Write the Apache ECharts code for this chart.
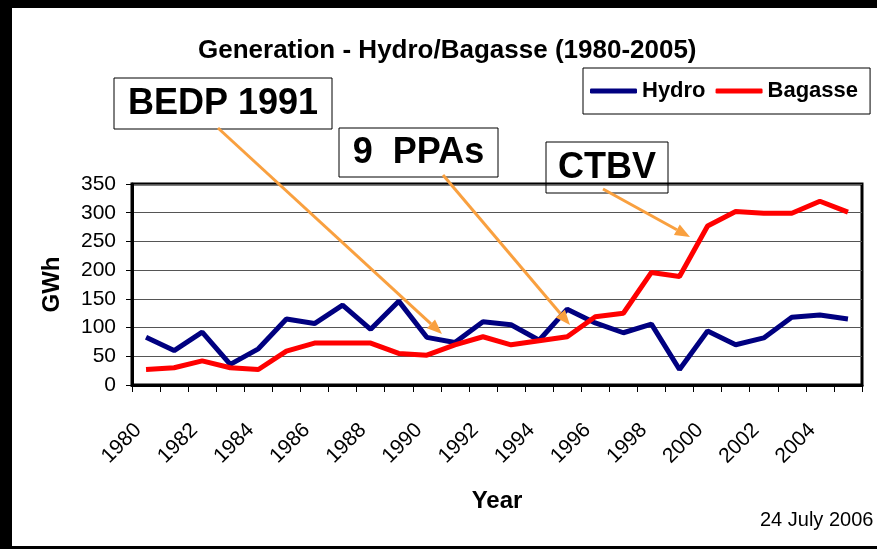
<!DOCTYPE html>
<html>
<head>
<meta charset="utf-8">
<script src="https://cdn.jsdelivr.net/npm/echarts@6/dist/echarts.min.js"></script>
<style>
  html, body { margin: 0; padding: 0; background: #fff; }
  #main { width: 877px; height: 549px; }
</style>
</head>
<body>
<div id="main"></div>
<script>
// 数据
var years = ['1980','1981','1982','1983','1984','1985','1986','1987','1988','1989',
             '1990','1991','1992','1993','1994','1995','1996','1997','1998','1999',
             '2000','2001','2002','2003','2004','2005'];
var hydro   = [83, 60, 92, 36, 63, 115, 107, 139, 97, 146, 83, 74, 110, 105, 78, 132, 108, 91, 106, 27, 94, 70, 82, 118, 122, 115];
var bagasse = [27, 30, 42, 30, 27, 59, 73, 73, 73, 55, 52, 70, 84, 70, 77, 84, 119, 125, 196, 189, 277, 302, 299, 299, 320, 301];
var yTicks  = [0, 50, 100, 150, 200, 250, 300, 350];

var FONT = '"Liberation Sans", Arial, sans-serif';
var ORANGE = '#F9A03F';

//箭头 (line + head)
function arrow(x1, y1, x2, y2)
{
    var a = Math.atan2(y2 - y1, x2 - x1);
    var len = 15, half = 6;
    var bx = x2 - len * Math.cos(a), by = y2 - len * Math.sin(a);
    var px = -Math.sin(a) * half, py = Math.cos(a) * half;
    return [
        {
            type: 'line', z: 20,
            shape: { x1: x1, y1: y1, x2: bx, y2: by },
            style: { stroke: ORANGE, lineWidth: 3 }
        },
        {
            type: 'polygon', z: 20,
            shape: { points: [[x2, y2], [bx + px, by + py], [bx - px, by - py]] },
            style: { fill: ORANGE }
        }
    ];
}

//标注框
function labelBox(x, y, w, h, text)
{
    return [
        {
            type: 'rect', z: 15,
            shape: { x: x, y: y, width: w, height: h },
            style: { fill: null, stroke: '#000', lineWidth: 1 }
        },
        {
            type: 'text', z: 16,
            style: {
                text: text, x: x + w / 2, y: y + h / 2 + 1,
                align: 'center', verticalAlign: 'middle',
                font: 'bold 36px ' + FONT, fill: '#000'
            }
        }
    ];
}

var graphics = []
    .concat([
        { type: 'rect', z: 30, shape: { x: 0, y: 0, width: 877, height: 8 }, style: { fill: '#000' } },
        { type: 'rect', z: 30, shape: { x: 0, y: 0, width: 12, height: 549 }, style: { fill: '#000' } },
        { type: 'rect', z: 30, shape: { x: 0, y: 546, width: 877, height: 3 }, style: { fill: '#000' } },
        {
            type: 'text', z: 16,
            style: { text: '24 July 2006', x: 760, y: 520, verticalAlign: 'middle',
                     font: '20px ' + FONT, fill: '#000' }
        }
    ])
    .concat(labelBox(114, 78, 218, 51, 'BEDP 1991'))
    .concat(labelBox(339, 128, 159, 49, '9  PPAs'))
    .concat(labelBox(546, 142, 122, 51, 'CTBV'))
    .concat(arrow(218, 128, 442, 334))
    .concat(arrow(443, 175, 570, 325))
    .concat(arrow(603, 189, 690, 237));

var myChart = echarts.init(document.getElementById('main'), null, { renderer: 'canvas' });

myChart.setOption({
    backgroundColor: '#fff',
    animation: false,
    //标题
    title: {
        text: 'Generation - Hydro/Bagasse (1980-2005)',
        left: 193,
        top: 33,
        textStyle: { fontFamily: FONT, fontSize: 26, fontWeight: 'bold', color: '#000' }
    },
    legend: {
        left: 583,
        top: 68,
        padding: [12, 12, 12, 7],
        borderColor: '#000',
        borderWidth: 1,
        itemGap: 10,
        itemWidth: 47,
        itemHeight: 5,
        icon: 'roundRect',
        data: ['Hydro', 'Bagasse'],
        textStyle: { fontFamily: FONT, fontSize: 22, fontWeight: 'bold', color: '#000', padding: [0, 0, 0, 0] }
    },
    grid: {
        left: 132,
        right: 15,
        top: 184,
        bottom: 164,
        show: true,
        borderColor: '#000',
        borderWidth: 3,
        backgroundColor: 'transparent'
    },
    //x轴
    xAxis: {
        type: 'category',
        data: years,
        boundaryGap: true,
        name: 'Year',
        nameLocation: 'middle',
        nameGap: 104,
        nameTextStyle: { fontFamily: FONT, fontSize: 24, fontWeight: 'bold', color: '#000' },
        axisLine: { lineStyle: { color: '#000', width: 3 } },
        axisTick: { show: true, interval: 0, length: 7, lineStyle: { color: '#000', width: 1 } },
        axisLabel: {
            interval: 1,
            rotate: 45,
            margin: 34,
            padding: [0, 11, 0, 0],
            fontFamily: FONT,
            fontSize: 21,
            color: '#000'
        }
    },
    //y轴
    yAxis: {
        type: 'value',
        min: yTicks[0],
        max: yTicks[yTicks.length - 1],
        interval: 50,
        name: 'GWh',
        nameLocation: 'middle',
        nameRotate: 90,
        nameGap: 68,
        nameTextStyle: { fontFamily: FONT, fontSize: 24, fontWeight: 'bold', color: '#000' },
        axisLine: { show: true, lineStyle: { color: '#000', width: 3 } },
        axisTick: { show: true, length: 6, lineStyle: { color: '#000', width: 1 } },
        axisLabel: { margin: 16, fontFamily: FONT, fontSize: 21, color: '#000' },
        splitLine: { show: true, lineStyle: { color: '#555', width: 1 } }
    },
    series: [
        {
            name: 'Hydro',
            type: 'line',
            data: hydro,
            symbol: 'none',
            z: 3,
            itemStyle: { color: '#000080' },
            lineStyle: { color: '#000080', width: 5 }
        },
        {
            name: 'Bagasse',
            type: 'line',
            data: bagasse,
            symbol: 'none',
            z: 4,
            itemStyle: { color: '#FF0000' },
            lineStyle: { color: '#FF0000', width: 5 }
        }
    ],
    graphic: graphics
});
</script>
</body>
</html>
